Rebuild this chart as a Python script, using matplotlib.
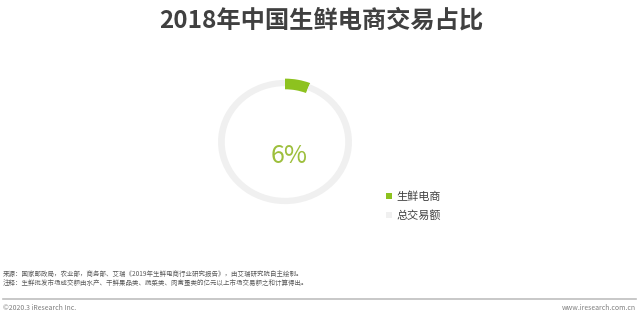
import matplotlib
matplotlib.use("Agg")
import matplotlib.pyplot as plt
from matplotlib.lines import Line2D

plt.rcParams['font.family'] = ['Noto Sans CJK SC', 'DejaVu Sans']

title = "2018年中国生鲜电商交易占比"
labels = ["生鲜电商", "总交易额"]
share = 6  # percent
values = [share, 100 - share]
colors = ["#8DC21F", "#F0F0F0"]
center_label = f"{share}%"
source_lines = [
    "来源：国家邮政局，农业部，商务部、艾瑞《2019年生鲜电商行业研究报告》，由艾瑞研究院自主绘制。",
    "注释：生鲜批发市场成交额由水产、干鲜果品类、蔬菜类、肉禽蛋类的亿元以上市场交易额之和计算得出。",
]
footer_left = "©2020.3 iResearch Inc."
footer_right = "www.iresearch.com.cn"

W, H = 640, 312
fig = plt.figure(figsize=(W / 100, H / 100), dpi=100)
fig.patch.set_facecolor("white")

# pie axes (pixel box -> figure coords)
cx, cy, rx, ry = 285, 142, 69, 64
ax = fig.add_axes([(cx - rx) / W, 1 - (cy + ry) / H, 2 * rx / W, 2 * ry / H])
wedges, _ = ax.pie(values, colors=colors, startangle=90, counterclock=False,
                   wedgeprops=dict(width=0.1, linewidth=0))
wedges[0].set_radius(1.01)
wedges[0].set_width(0.17)
wedges[1].set_radius(0.99)
ax.set_xlim(-1.02, 1.02)
ax.set_ylim(-1.02, 1.02)
ax.set_aspect('auto')
ax.axis('off')

fig.text(289 / W, 1 - 156 / H, center_label, ha='center', va='center',
         fontsize=18, color="#9DBF3C")

fig.text(321 / W, 1 - 21 / H, title, ha='center', va='center',
         fontsize=17.5, fontweight='bold', color="#404040")

# legend
handles = [Line2D([0], [0], marker='s', linestyle='none', markersize=4,
                  markerfacecolor=c, markeredgewidth=0) for c in colors]
leg = fig.legend(handles, labels, loc='upper left',
                 bbox_to_anchor=(380 / W, 1 - 186 / H), frameon=False,
                 fontsize=8, handlelength=0.6, handletextpad=0.4,
                 labelspacing=0.75, borderpad=0)
for t in leg.get_texts():
    t.set_color("#404040")

# source notes
for i, line in enumerate(source_lines):
    fig.text(3 / W, 1 - (274 + i * 10) / H, line, ha='left', va='center',
             fontsize=4.65, color="#595959")

# footer line
fig.add_artist(Line2D([3 / W, 636 / W], [1 - 299 / H, 1 - 299 / H],
                      color="#BFBFBF", linewidth=1.2, transform=fig.transFigure))
fig.text(3 / W, 1 - 308 / H, footer_left, ha='left', va='center',
         fontsize=5, color="#7F7F7F")
fig.text(636 / W, 1 - 308 / H, footer_right, ha='right', va='center',
         fontsize=5, color="#7F7F7F")

fig.savefig("out.png", dpi=100, facecolor="white")
